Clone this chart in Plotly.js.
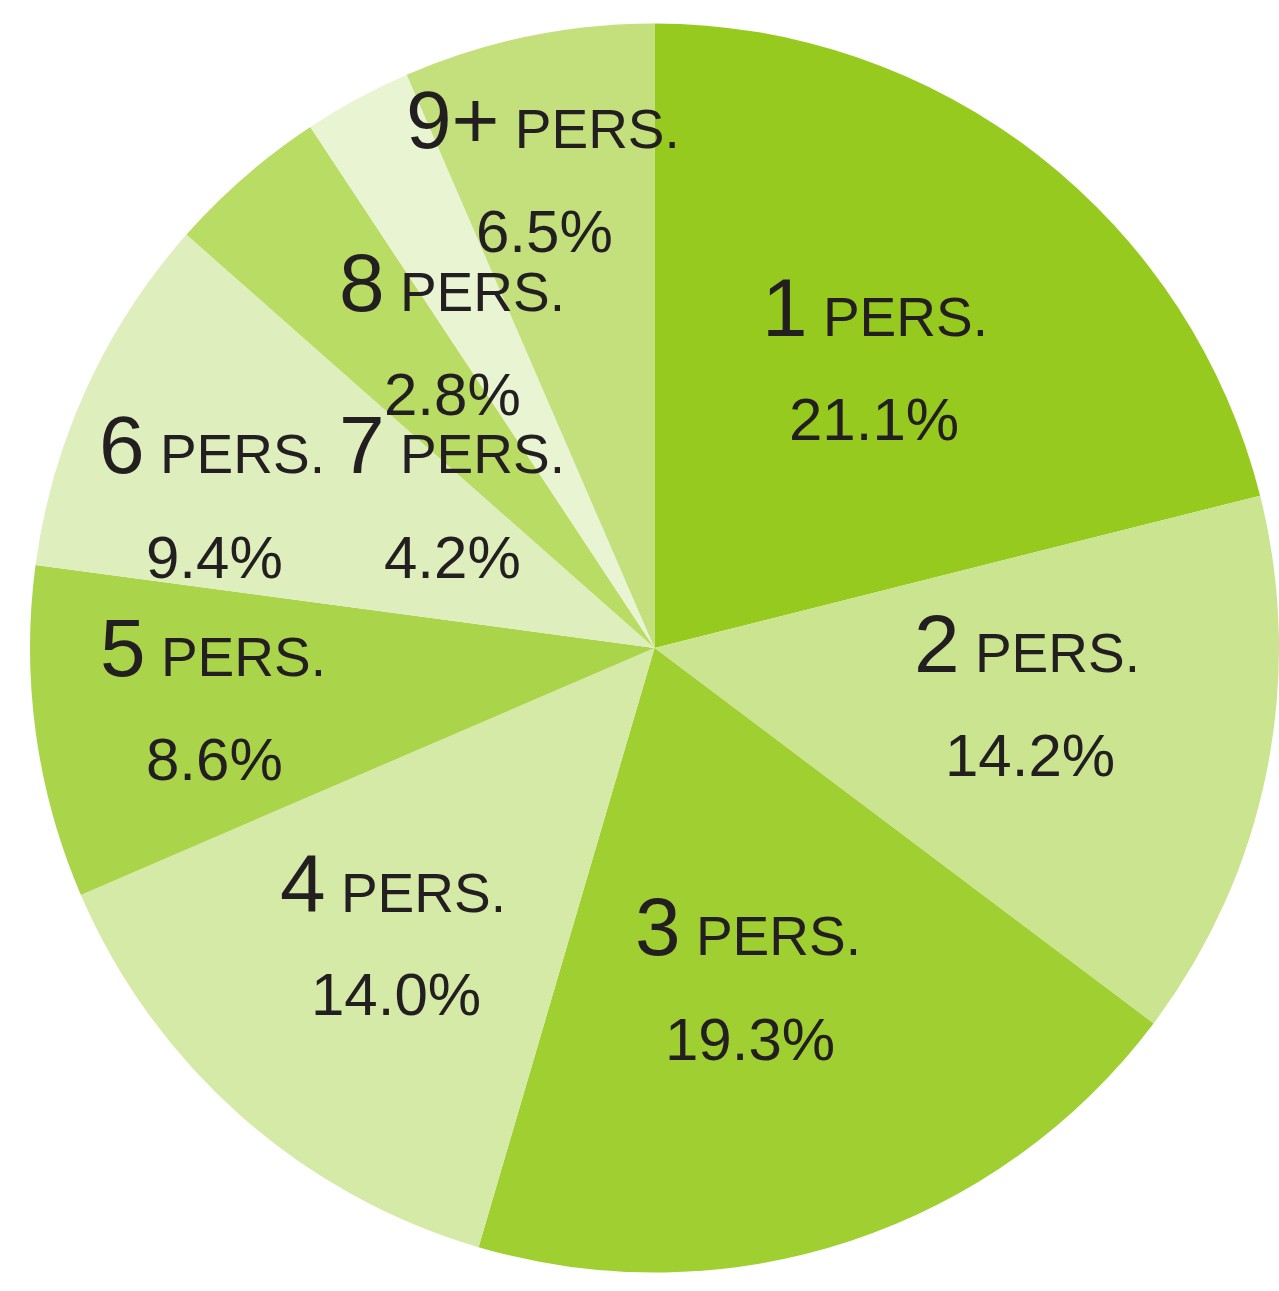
<!DOCTYPE html>
<html>
<head>
<meta charset="utf-8">
<script src="https://cdn.plot.ly/plotly-3.0.1.min.js"></script>
<style>
  html, body { margin: 0; padding: 0; background: #ffffff; }
  #chart { width: 1279px; height: 1291px; }
</style>
</head>
<body>
<div id="chart"></div>
<script>
// ---- data ----
const categories = ["1", "2", "3", "4", "5", "6", "7", "8", "9+"];
const shares = [21.1, 14.2, 19.3, 14.0, 8.6, 9.4, 4.2, 2.8, 6.5];
const unitLabel = "PERS.";
const sliceColors = ["#96CA1E", "#CBE48F", "#9FCF30", "#D5EAA6", "#AAD54B",
                     "#DFEEBD", "#B8DC64", "#E9F4D3", "#C3E07D"];

// ---- label placement (pixel centres, baselines) ----
const nameX = [875, 1027, 748, 393, 213, 212, 452, 452, 543];
const nameBase = [335, 670, 953, 910, 674, 472, 472, 310, 147];
const pctX = [874, 1030, 750, 396, 214, 214, 452, 452, 544];
const pctBase = [439, 775, 1059, 1014, 780, 577, 577, 415, 252];

const W = 1279, H = 1291;
const textColor = "#231F20";
const family = "Liberation Sans, Arial, Helvetica, sans-serif";

const annotations = [];
categories.forEach((c, i) => {
  annotations.push({
    xref: "paper", yref: "paper",
    x: nameX[i] / W, y: 1 - (nameBase[i] - 27) / H,
    xanchor: "center", yanchor: "middle",
    showarrow: false,
    text: "<span style='font-size:82px'>" + c + "</span> " + unitLabel,
    font: { family: family, size: 55, color: textColor }
  });
  annotations.push({
    xref: "paper", yref: "paper",
    x: pctX[i] / W, y: 1 - (pctBase[i] - 20) / H,
    xanchor: "center", yanchor: "middle",
    showarrow: false,
    text: shares[i].toFixed(1) + "%",
    font: { family: family, size: 60, color: textColor }
  });
});

const trace = {
  type: "pie",
  labels: categories.map(c => c + " " + unitLabel),
  values: shares,
  sort: false,
  direction: "clockwise",
  rotation: 0,
  marker: { colors: sliceColors, line: { width: 0 } },
  textinfo: "none",
  hoverinfo: "skip",
  showlegend: false,
  domain: { x: [30 / W, 1], y: [18 / H, 1 - 23 / H] }
};

const layout = {
  width: W, height: H,
  margin: { l: 0, r: 0, t: 0, b: 0 },
  paper_bgcolor: "#ffffff",
  plot_bgcolor: "#ffffff",
  showlegend: false,
  annotations: annotations
};

Plotly.newPlot("chart", [trace], layout, { displayModeBar: false, staticPlot: true });
</script>
</body>
</html>
